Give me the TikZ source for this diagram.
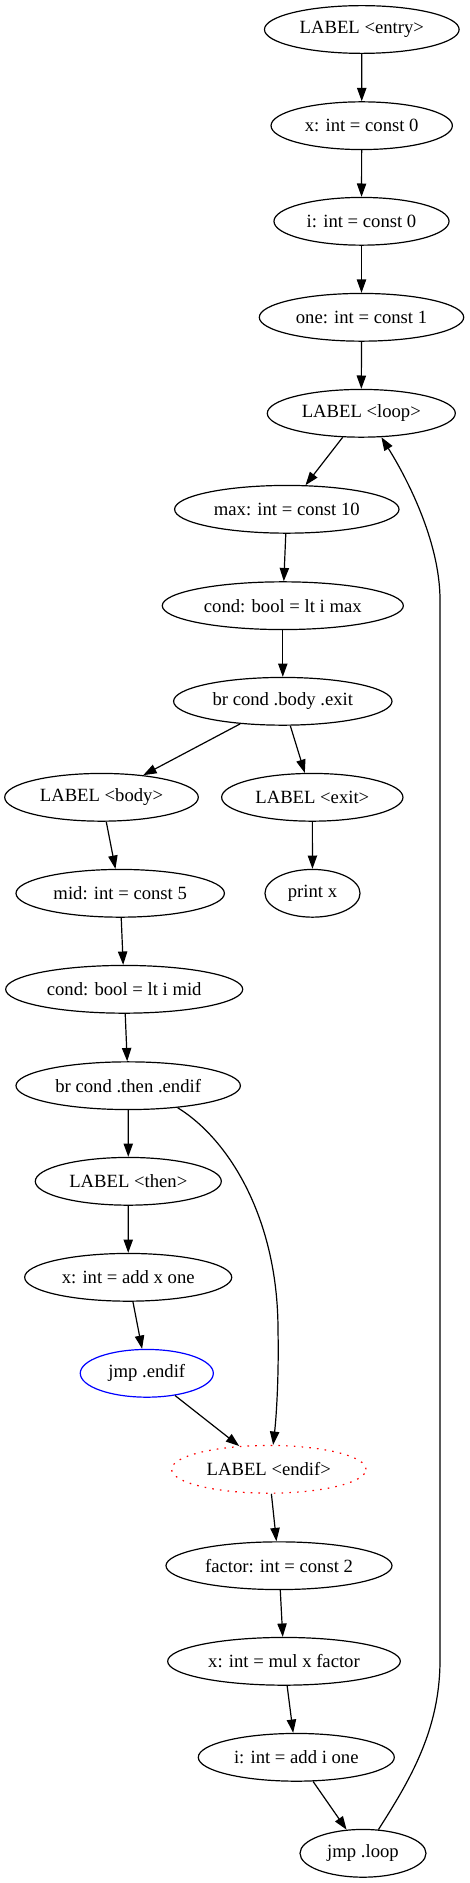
\documentclass[tikz,border=0pt]{standalone}
\usepackage{fontspec}
\setmainfont{Liberation Serif}
\usetikzlibrary{shapes.geometric,arrows.meta}
\begin{document}
\begin{tikzpicture}[x=0.75pt,y=-0.75pt,
  gnode/.style={ellipse,draw,line width=0.9pt,inner sep=0pt,minimum height=35.8pt,
    font=\fontsize{14}{16}\selectfont},
  edge/.style={draw,line width=0.9pt,-{Triangle[length=10pt,width=7pt]}}]
\useasboundingbox (0,0) rectangle (469,1883);
\node[gnode,minimum width=146pt]   (entry)   at (361.8,29.5)   {LABEL <entry>};
\node[gnode,minimum width=136pt]   (x0)      at (361.7,125.7)  {x: int = const 0};
\node[gnode,minimum width=131.3pt] (i0)      at (361.5,221.3)  {i: int = const 0};
\node[gnode,minimum width=153.3pt] (one)     at (361.5,317.3)  {one: int = const 1};
\node[gnode,minimum width=141pt]   (loop)    at (361.3,413.3)  {LABEL <loop>};
\node[gnode,minimum width=168.3pt] (max)     at (286.8,509.3)  {max: int = const 10};
\node[gnode,minimum width=180.8pt] (condmax) at (282.8,605.7)  {cond: bool = lt i max};
\node[gnode,minimum width=163.8pt] (brbody)  at (282.8,701.3)  {br cond .body .exit};
\node[gnode,minimum width=145.2pt] (body)    at (101.5,797.3)  {LABEL <body>};
\node[gnode,minimum width=136pt]   (exit)    at (312.3,797.3)  {LABEL <exit>};
\node[gnode,minimum width=156.3pt] (mid)     at (120.2,893.3)  {mid: int = const 5};
\node[gnode,minimum width=71.3pt]  (print)   at (312.5,893.3)  {print x};
\node[gnode,minimum width=177.8pt] (condmid) at (124.2,989.3)  {cond: bool = lt i mid};
\node[gnode,minimum width=168.3pt] (brthen)  at (128.2,1085.7) {br cond .then .endif};
\node[gnode,minimum width=139.5pt] (then)    at (128.3,1181.3) {LABEL <then>};
\node[gnode,minimum width=155.3pt] (xadd)    at (128.2,1277.3) {x: int = add x one};
\node[gnode,minimum width=99.8pt,draw=blue] (jmpendif) at (146.8,1373.3) {jmp .endif};
\node[gnode,minimum width=145.8pt,draw=red,dash pattern=on 1.2pt off 4.6pt] (endif) at (268.8,1469.3) {LABEL <endif>};
\node[gnode,minimum width=169.5pt] (factor)  at (279,1565.7)   {factor: int = const 2};
\node[gnode,minimum width=174.5pt] (xmul)    at (284,1661.3)   {x: int = mul x factor};
\node[gnode,minimum width=147pt]   (iadd)    at (296.3,1757.3) {i: int = add i one};
\node[gnode,minimum width=94.5pt]  (jmploop) at (363,1853.3)   {jmp .loop};

\path[edge] (entry) -- (x0);
\path[edge] (x0) -- (i0);
\path[edge] (i0) -- (one);
\path[edge] (one) -- (loop);
\path[edge] (loop) -- (max);
\path[edge] (max) -- (condmax);
\path[edge] (condmax) -- (brbody);
\path[edge] (brbody) -- (body);
\path[edge] (brbody) -- (exit);
\path[edge] (exit) -- (print);
\path[edge] (body) -- (mid);
\path[edge] (mid) -- (condmid);
\path[edge] (condmid) -- (brthen);
\path[edge] (brthen) -- (then);
\path[edge] (brthen.-24.4) .. controls (230,1140) and (278,1220) .. (278,1330)
   .. controls (279,1380) and (276,1420) .. (endif.80);
\path[edge] (then) -- (xadd);
\path[edge] (xadd) -- (jmpendif);
\path[edge] (jmpendif) -- (endif);
\path[edge] (endif) -- (factor);
\path[edge] (factor) -- (xmul);
\path[edge] (xmul) -- (iadd);
\path[edge] (iadd) -- (jmploop);
\path[edge] (jmploop.57) .. controls (410,1780) and (440,1730) .. (440,1660)
   -- (440,600) .. controls (440,540) and (405,475) .. (loop.-50);
\end{tikzpicture}
\end{document}
